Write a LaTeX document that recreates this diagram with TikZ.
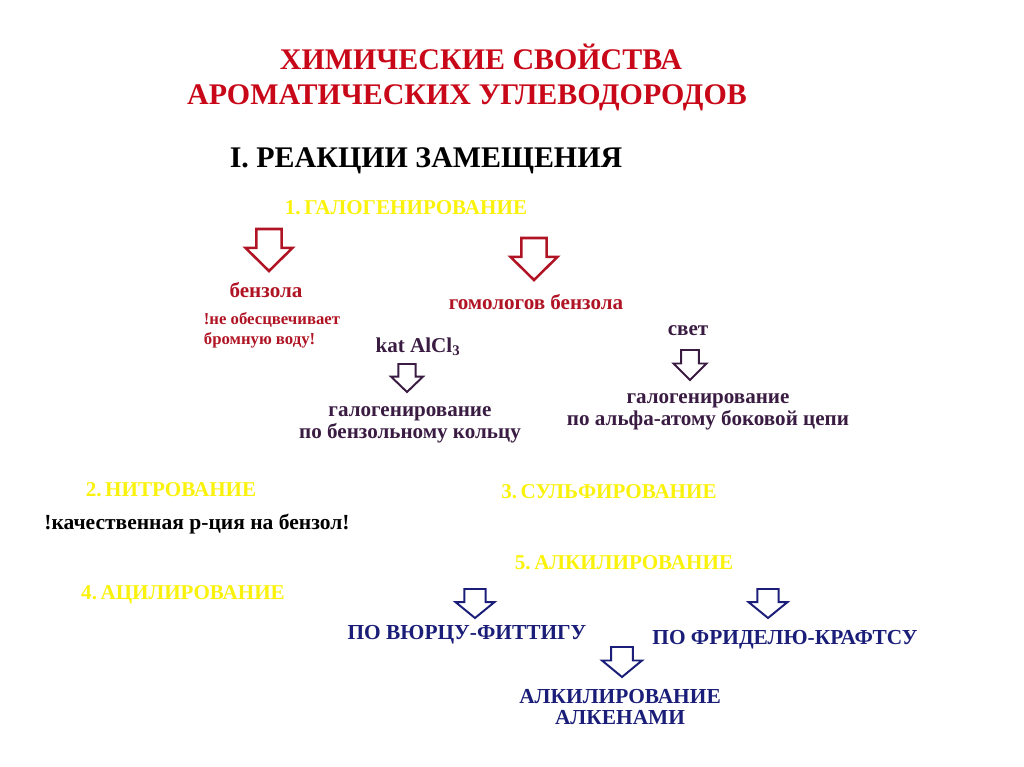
\documentclass[tikz,border=0pt]{standalone}
\usepackage{fontspec}
\setmainfont{Liberation Serif}
\definecolor{titlered}{RGB}{200, 8, 24}
\definecolor{darkred}{RGB}{176, 20, 36}
\definecolor{headyellow}{RGB}{250, 242, 10}
\definecolor{plum}{RGB}{58, 28, 66}
\definecolor{navy}{RGB}{26, 30, 120}

\tikzset{
  pics/downarr/.style args={#1/#2}{code={
    \draw (-0.27*#1,0) -- (0.27*#1,0) -- (0.27*#1,0.45*#2) -- (0.5*#1,0.45*#2)
      -- (0,#2) -- (-0.5*#1,0.45*#2) -- (-0.27*#1,0.45*#2) -- cycle;
    \coordinate (-tip) at (0,#2);
  }}
}

\begin{document}
\begin{tikzpicture}[x=0.025cm, y=-0.025cm,
    title/.style={font=\bfseries\fontsize{21.3}{25.6}\selectfont, align=center, inner sep=0pt},
    head/.style={font=\bfseries\fontsize{15}{17}\selectfont, text=headyellow, inner sep=0pt},
    redtext/.style={font=\bfseries\fontsize{15}{17}\selectfont, text=darkred, inner sep=0pt},
    plumtext/.style={font=\bfseries\fontsize{15}{15.6}\selectfont, text=plum, align=center, inner sep=0pt},
    bluetext/.style={font=\bfseries\fontsize{15.2}{15.6}\selectfont, text=navy, align=center, inner sep=0pt},
    bigarrow/.style={draw=darkred, line width=1.8pt, line join=miter},
    smallarrow/.style={line width=1.4pt, line join=miter}]

\useasboundingbox (0,0) rectangle (1024,767);

\node[title, text=titlered, anchor=base] (title) at (481,70) {ХИМИЧЕСКИЕ СВОЙСТВА};
\node[title, text=titlered, anchor=base] (titleb) at (467,105) {АРОМАТИЧЕСКИХ УГЛЕВОДОРОДОВ};
\node[title] (subst) at (426,161) {I. РЕАКЦИИ ЗАМЕЩЕНИЯ};

\node[head] (halo) at (406,208) {1.\,ГАЛОГЕНИРОВАНИЕ};
\pic[bigarrow] (arrbenz) at (269,229) {downarr=47/42};
\pic[bigarrow] (arrhomo) at (534,238) {downarr=47/42};
\node[redtext] (benz) at (266,290) {бензола};
\node[redtext] (homo) at (536,302) {гомологов бензола};
\node[font=\bfseries\fontsize{11.9}{14.2}\selectfont, text=darkred, align=left, inner sep=0pt] (bromine) at (272,330) {!не обесцвечивает\\бромную воду!};

\node[plumtext] (kat) at (418,347) {kat AlCl\textsubscript{3}};
\pic[smallarrow, draw=plum] (arrring) at (407,364) {downarr=32/28};
\pic[smallarrow, draw=plum] (arrchain) at (690,350) {downarr=33/30};
\node[plumtext] (ring) at (410,425) {галогенирование\\по бензольному кольцу};

\node[plumtext] (light) at (688,331) {свет};
\node[plumtext] (chain) at (708,412) {галогенирование\\по альфа-атому боковой цепи};

\node[head] (nitro) at (171,490) {2.\,НИТРОВАНИЕ};
\node[head] (sulfo) at (609,492) {3.\,СУЛЬФИРОВАНИЕ};
\node[font=\bfseries\fontsize{15.3}{17}\selectfont, inner sep=0pt] (quality) at (197,524) {!качественная р-ция на бензол!};
\node[head] (alkyl) at (624,563) {5.\,АЛКИЛИРОВАНИЕ};
\node[head] (acyl) at (183,595) {4.\,АЦИЛИРОВАНИЕ};

\pic[smallarrow, draw=navy] (arrwurtz) at (475,589) {downarr=39/29};
\pic[smallarrow, draw=navy] (arrfriedel) at (768,589) {downarr=39/29};
\node[bluetext] (wurtz) at (467,635) {ПО ВЮРЦУ-ФИТТИГУ};
\node[bluetext] (friedel) at (785,640) {ПО ФРИДЕЛЮ-КРАФТСУ};
\pic[smallarrow, draw=navy] (arralkene) at (622,647) {downarr=40/30};
\node[bluetext] (alkene) at (620,707) {АЛКИЛИРОВАНИЕ\\АЛКЕНАМИ};

\end{tikzpicture}
\end{document}
